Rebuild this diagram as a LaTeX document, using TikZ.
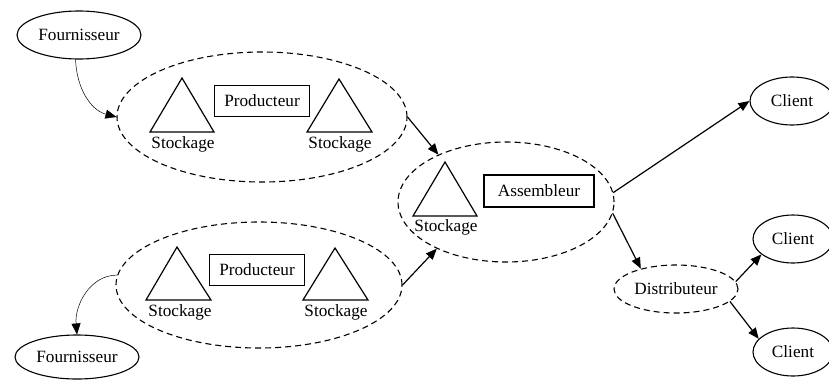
\documentclass[tikz,border=0pt]{standalone}
\usepackage{fontspec}
\setmainfont{Liberation Serif}
\usetikzlibrary{shapes.geometric,arrows.meta}
\begin{document}
\begin{tikzpicture}[x=1pt,y=-1pt,
  every node/.style={font=\fontsize{17.2}{20}\selectfont, inner sep=0pt},
  solidell/.style={draw, ellipse, line width=1.1pt},
  grp/.style={draw, ellipse, dashed, dash pattern=on 6pt off 4pt, line width=1.1pt},
  actor/.style={draw, rectangle, line width=1.1pt, minimum height=31pt, inner xsep=6pt},
  tri/.style={line width=1.2pt, line join=miter},
  flow/.style={-{Triangle[length=11pt,width=9pt]}, line width=1.2pt},
  supply/.style={-{Triangle[length=11pt,width=9pt]}, line width=0.5pt}
]
\useasboundingbox (0,0) rectangle (829,381);

% suppliers
\node[solidell, minimum width=124pt, minimum height=48pt] (four1) at (79,35) {Fournisseur};
\node[solidell, minimum width=124pt, minimum height=44pt] (four2) at (77,357) {Fournisseur};

% upper production site
\node[grp, minimum width=290pt, minimum height=130pt] (site1) at (262,117) {};
\draw[tri] (150,132) -- (182,78) -- (214,132) -- cycle;
\draw[tri] (307,132) -- (339,79) -- (372,132) -- cycle;
\node (st1a) at (183,144) {Stockage};
\node (st1b) at (340,144) {Stockage};
\node[actor, minimum width=95pt] (prod1) at (262,101) {Producteur};

% lower production site
\node[grp, minimum width=286pt, minimum height=126pt] (site2) at (259,285) {};
\draw[tri] (146,300) -- (177,247) -- (211,300) -- cycle;
\draw[tri] (303,300) -- (335,248) -- (368,300) -- cycle;
\node (st2a) at (180,312) {Stockage};
\node (st2b) at (336,312) {Stockage};
\node[actor, minimum width=95pt] (prod2) at (257,270) {Producteur};

% assembly site
\node[grp, minimum width=216pt, minimum height=120pt] (asm) at (506,202) {};
\draw[tri] (413,216) -- (445,162) -- (477,216) -- cycle;
\node (st3) at (446,227) {Stockage};
\node[actor, minimum width=110pt, minimum height=32pt] (assb) at (539,191) {Assembleur};

% distribution and customers
\node[grp, minimum width=124pt, minimum height=48pt] (dist) at (676,289) {Distributeur};
\node[solidell, minimum width=84pt, minimum height=48pt] (cli1) at (792,101) {Client};
\node[solidell, minimum width=80pt, minimum height=48pt] (cli2) at (793,239) {Client};
\node[solidell, minimum width=80pt, minimum height=48pt] (cli3) at (793,352) {Client};

% connectors
\draw[supply] (four1.262) to[out=-88, in=165] (site1.west);
\draw[supply] (site2.176) to[out=180, in=95] (four2.north);
\draw[flow] (site1.east) -- (asm.145);
\draw[flow] (site2.east) -- (asm.214);
\draw[flow] (asm.5) -- (cli1.west);
\draw[flow] (asm.-6) -- (dist.150);
\draw[flow] (dist.7) -- (cli2.206);
\draw[flow] (dist.347) -- (cli3.159);
\end{tikzpicture}
\end{document}
